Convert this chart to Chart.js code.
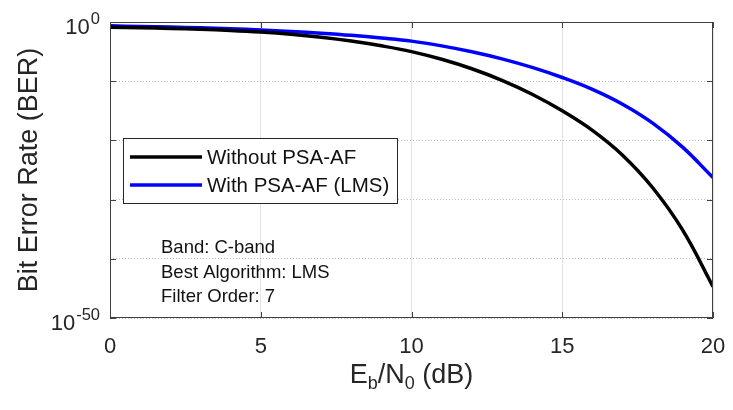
<!DOCTYPE html>
<html>
<head>
<meta charset="utf-8">
<script src="https://cdn.jsdelivr.net/npm/chart.js@4.4.1/dist/chart.umd.min.js"></script>
<style>
  html, body { margin: 0; padding: 0; background: #fff; }
  #wrap { width: 733px; height: 410px; }
</style>
</head>
<body>
<div id="wrap"><canvas id="berChart" width="733" height="410"></canvas></div>
<script>
// Eb/N0 in dB
var ebn0 = [0, 1, 2, 3, 4, 5, 6, 7, 8, 9, 10, 11, 12, 13, 14, 15, 16, 17, 18, 19, 20];
// BER (log axis)
var berWithout = [1.26e-1, 1.05e-1, 8.3e-2, 6.0e-2, 3.8e-2, 2.0e-2, 8.3e-3, 2.6e-3, 6.0e-4, 9.5e-5,
                  1.0e-5, 5.0e-7, 1.26e-8, 1.4e-10, 6.3e-13, 1.0e-15, 5.0e-19, 3.2e-23, 1.0e-28, 6.3e-36, 2.0e-45];
var berWithLms = [2.24e-1, 1.78e-1, 1.38e-1, 1.02e-1, 7.1e-2, 4.5e-2, 2.6e-2, 1.29e-2, 5.6e-3, 2.0e-3,
                  5.9e-4, 9.3e-5, 9.3e-6, 5.9e-7, 2.1e-8, 4.2e-10, 4.2e-12, 1.3e-14, 8.3e-18, 6.6e-22, 5.2e-27];
var seriesLabels = ['Without PSA-AF', 'With PSA-AF (LMS)'];
var xTicks = [0, 5, 10, 15, 20];
var yTickExponents = [-50, -40, -30, -20, -10, 0];
var yLabelExponents = [0, -50];
var noteLines = ['Band: C-band', 'Best Algorithm: LMS', 'Filter Order: 7'];

var FONT = "'Liberation Sans', Arial, Helvetica, sans-serif";
var AXIS_COLOR = '#262626';

function toPoints(xs, ys) {
    return xs.map(function (x, i) { return { x: x, y: ys[i] }; });
}

// matlab-ish axes box, ticks, superscript labels, legend and notes
var decor = {
    id: 'decor',
    afterDatasetsDraw: function (chart) {
        var ctx = chart.ctx, a = chart.chartArea;
        var xs = chart.scales.x, ys = chart.scales.y;
        ctx.save();
        ctx.strokeStyle = '#404040';
        ctx.lineWidth = 1;
        ctx.strokeRect(a.left + 0.5, a.top + 0.5, a.right - a.left - 1, a.bottom - a.top - 1);
        ctx.beginPath();
        xTicks.forEach(function (v) {
            var px = Math.round(xs.getPixelForValue(v)) + 0.5;
            ctx.moveTo(px, a.bottom); ctx.lineTo(px, a.bottom - 6);
            ctx.moveTo(px, a.top); ctx.lineTo(px, a.top + 6);
        });
        yTickExponents.forEach(function (e) {
            var py = Math.round(ys.getPixelForValue(Math.pow(10, e))) + 0.5;
            ctx.moveTo(a.left, py); ctx.lineTo(a.left + 6, py);
            ctx.moveTo(a.right, py); ctx.lineTo(a.right - 6, py);
        });
        ctx.stroke();
        ctx.restore();
    },
    afterDraw: function (chart) {
        var ctx = chart.ctx, a = chart.chartArea;
        var ys = chart.scales.y;
        ctx.save();
        ctx.fillStyle = AXIS_COLOR;

        // y tick labels 10^n
        yLabelExponents.forEach(function (e) {
            var py = ys.getPixelForValue(Math.pow(10, e));
            var sup = String(e);
            ctx.font = '16.5px ' + FONT;
            var wSup = ctx.measureText(sup).width;
            ctx.font = '22px ' + FONT;
            var wBase = ctx.measureText('10').width;
            var right = a.left - 10;
            ctx.textBaseline = 'alphabetic';
            ctx.textAlign = 'left';
            ctx.fillText('10', right - wSup - wBase - 1, py + 12);
            ctx.font = '16.5px ' + FONT;
            ctx.fillText(sup, right - wSup, py + 2);
        });

        // y title
        ctx.save();
        ctx.translate(30, (a.top + a.bottom) / 2);
        ctx.rotate(-Math.PI / 2);
        ctx.font = '27px ' + FONT;
        ctx.textAlign = 'center';
        ctx.textBaseline = 'middle';
        ctx.fillText('Bit Error Rate (BER)', 0, 0);
        ctx.restore();

        // x title with subscripts: E_b/N_0 (dB)
        var parts = [['E', 0], ['b', 1], ['/N', 0], ['0', 1], [' (dB)', 0]];
        var total = 0;
        parts.forEach(function (p) {
            ctx.font = (p[1] ? '18px ' : '27px ') + FONT;
            p.push(ctx.measureText(p[0]).width);
            total += p[2];
        });
        var cx = (a.left + a.right) / 2 - total / 2;
        ctx.textAlign = 'left';
        ctx.textBaseline = 'alphabetic';
        parts.forEach(function (p) {
            ctx.font = (p[1] ? '18px ' : '27px ') + FONT;
            ctx.fillText(p[0], cx, p[1] ? 389 : 383);
            cx += p[2];
        });

        // legend
        var lx = 123, ly = 138, lw = 274, lh = 65;
        ctx.fillStyle = '#fff';
        ctx.fillRect(lx, ly, lw, lh);
        ctx.strokeStyle = AXIS_COLOR;
        ctx.lineWidth = 1;
        ctx.strokeRect(lx + 0.5, ly + 0.5, lw, lh);
        chart.data.datasets.forEach(function (ds, i) {
            var y = 157 + i * 28;
            ctx.strokeStyle = ds.borderColor;
            ctx.lineWidth = 3.5;
            ctx.beginPath();
            ctx.moveTo(130, y); ctx.lineTo(202, y);
            ctx.stroke();
            ctx.fillStyle = '#111';
            ctx.font = '20.5px ' + FONT;
            ctx.textBaseline = 'middle';
            ctx.fillText(ds.label, 207, y + 1);
        });

        // notes
        ctx.fillStyle = '#111';
        ctx.font = '18.5px ' + FONT;
        ctx.textBaseline = 'middle';
        noteLines.forEach(function (t, i) {
            ctx.fillText(t, 161, 248 + i * 24.5);
        });
        ctx.restore();
    }
};

var ctx = document.getElementById('berChart').getContext('2d');
var berChart = new Chart(ctx, {
    type: 'line',
    data: {
        datasets: [{
            label: seriesLabels[0],
            data: toPoints(ebn0, berWithout),
            borderColor: '#000000',
            borderWidth: 3.5,
            pointRadius: 0,
            tension: 0.4
        }, {
            label: seriesLabels[1],
            data: toPoints(ebn0, berWithLms),
            borderColor: '#0000ff',
            borderWidth: 3.5,
            pointRadius: 0,
            tension: 0.4
        }]
    },
    options: {
        responsive: false,
        animation: false,
        devicePixelRatio: 1,
        layout: { padding: { left: 0, right: 20, top: 22, bottom: 0 } },
        plugins: {
            legend: { display: false },
            tooltip: { enabled: false }
        },
        scales: {
            x: {
                type: 'linear',
                min: 0,
                max: 20,
                afterBuildTicks: function (scale) {
                    scale.ticks = xTicks.map(function (v) { return { value: v }; });
                },
                afterFit: function (scale) {
                    scale.height = 92;
                    scale.paddingLeft = 0;
                    scale.paddingRight = 0;
                },
                grid: { color: '#e3e3e3', lineWidth: 1, drawTicks: false },
                border: { display: false },
                ticks: {
                    padding: 16,
                    color: AXIS_COLOR,
                    font: { family: FONT, size: 22 }
                }
            },
            y: {
                type: 'logarithmic',
                min: 1e-50,
                max: 1,
                afterBuildTicks: function (scale) {
                    scale.ticks = yTickExponents.map(function (e) { return { value: Math.pow(10, e) }; });
                },
                afterFit: function (scale) { scale.width = 110; },
                grid: { color: '#bdbdbd', lineWidth: 1, drawTicks: false },
                border: { display: false, dash: [1, 2] },
                ticks: { display: false }
            }
        }
    },
    plugins: [decor]
});
</script>
</body>
</html>
